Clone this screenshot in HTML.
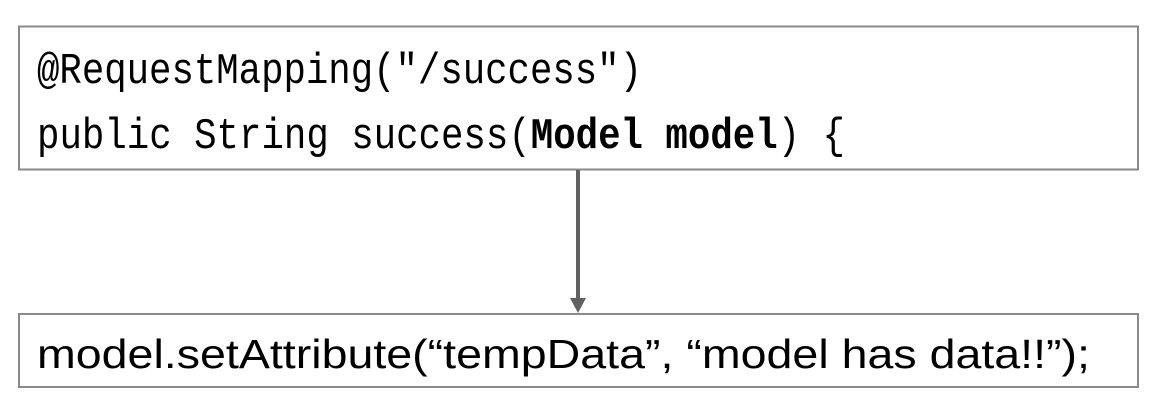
<!DOCTYPE html>
<html><head><meta charset="utf-8"><style>
html,body{margin:0;padding:0;background:#fff;width:1158px;height:402px;overflow:hidden}
</style></head><body>
<svg width="1158" height="402" xmlns="http://www.w3.org/2000/svg">
<rect x="19" y="26.5" width="1119" height="143" fill="#fff" stroke="#8a8a8a" stroke-width="2"/>
<rect x="19" y="314" width="1119" height="73" fill="#fff" stroke="#8a8a8a" stroke-width="2"/>
<line x1="578" y1="170" x2="578" y2="300" stroke="#606060" stroke-width="4"/>
<polygon points="570,298 586,298 578,313" fill="#606060"/>
<text x="37" y="83" font-family="Liberation Mono, monospace" font-size="44" textLength="605" lengthAdjust="spacingAndGlyphs" fill="#000">@RequestMapping("/success")</text>
<text x="37" y="148" font-family="Liberation Mono, monospace" font-size="44" textLength="808" lengthAdjust="spacingAndGlyphs" fill="#000">public String success(<tspan font-weight="bold">Model model</tspan>) {</text>
<text x="37" y="368" font-family="Liberation Sans, sans-serif" font-size="41" textLength="1053" lengthAdjust="spacingAndGlyphs" fill="#000">model.setAttribute(“tempData”, “model has data!!”);</text>
</svg>
</body></html>
